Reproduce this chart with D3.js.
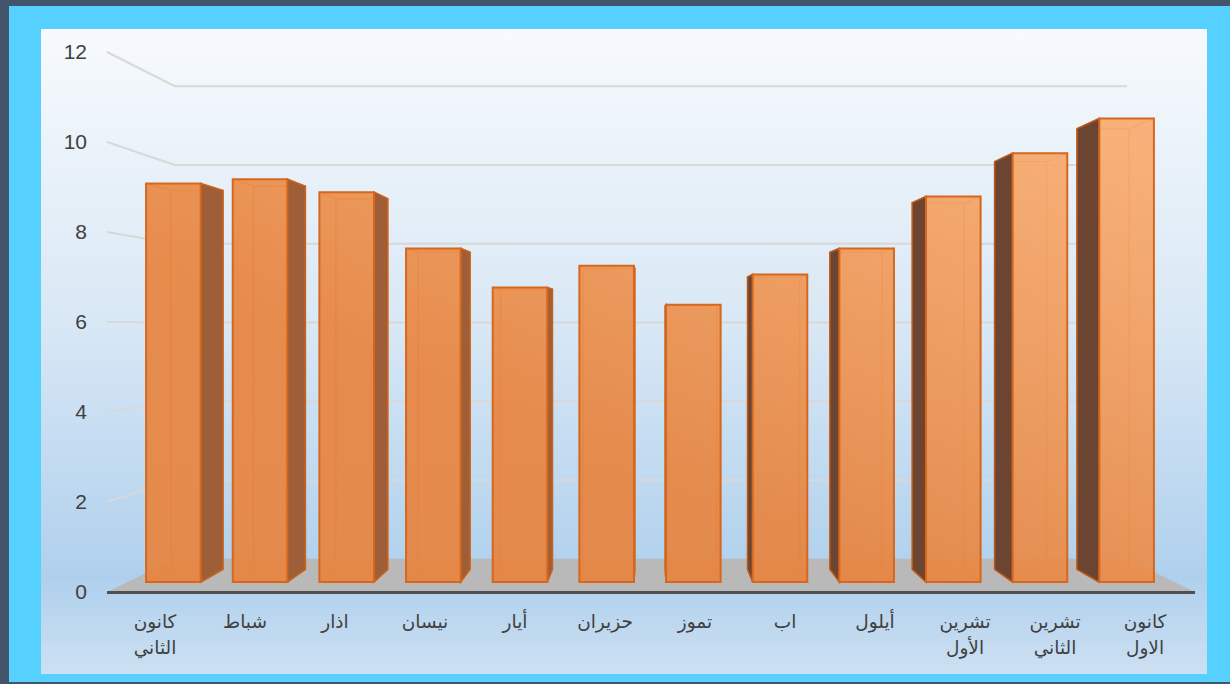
<!DOCTYPE html>
<html>
<head>
<meta charset="utf-8">
<script src="https://cdn.jsdelivr.net/npm/d3@7"></script>
<style>
  body { margin: 0; background: #fff; }
  svg { display: block; }
</style>
</head>
<body>
<div id="chart"></div>
<script>
// data
var months = ["كانون الثاني", "شباط", "اذار", "نيسان", "أيار", "حزيران", "تموز", "اب", "أيلول", "تشرين الأول", "تشرين الثاني", "كانون الاول"];
var values = [9.2, 9.3, 9.0, 7.7, 6.8, 7.3, 6.4, 7.1, 7.7, 8.9, 9.9, 10.7];
var yTicks = [0, 2, 4, 6, 8, 10, 12];

var width = 1230, height = 684;

var svg = d3.select("#chart")
  .append("svg")
    .attr("width", width)
    .attr("height", height);

var defs = svg.append("defs");

// plot area background gradient
var bg = defs.append("linearGradient")
  .attr("id", "bgGrad")
  .attr("x1", 0).attr("y1", 0).attr("x2", 0).attr("y2", 1);
bg.append("stop").attr("offset", "0%").attr("stop-color", "#f7fafd");
bg.append("stop").attr("offset", "45%").attr("stop-color", "#d9e8f5");
bg.append("stop").attr("offset", "85%").attr("stop-color", "#afd0ed");
bg.append("stop").attr("offset", "100%").attr("stop-color", "#cde0f2");

// orange fill of the bar fronts, lighter to the top right
var barGrad = defs.append("linearGradient")
  .attr("id", "barGrad")
  .attr("gradientUnits", "userSpaceOnUse")
  .attr("x1", 700).attr("y1", 500).attr("x2", 900).attr("y2", 50);
barGrad.append("stop").attr("offset", "0%").attr("stop-color", "#e7843f");
barGrad.append("stop").attr("offset", "100%").attr("stop-color", "#f8ab6e");

// frame
svg.append("rect").attr("width", width).attr("height", height).attr("fill", "#44546a");
svg.append("rect").attr("x", 9).attr("y", 6).attr("width", width - 9).attr("height", 676).attr("fill", "#56d0fe");
svg.append("rect").attr("x", 41).attr("y", 29).attr("width", 1166).attr("height", 645).attr("fill", "url(#bgGrad)");

// scales on the front plane
var x = d3.scaleBand()
  .domain(months)
  .range([110, 1190])
  .paddingInner(0.37)
  .paddingOuter(0.185);

var y = d3.scaleLinear()
  .domain([0, 12])
  .range([592, 52]);

// simple perspective: z = 0 front, z = 1 back wall
var vx = 650, vy = 325, k = 1 / 0.875 - 1;
function proj(px, py, z) {
  var s = 1 / (1 + k * z);
  return [vx + (px - vx) * s, vy + (py - vy) * s];
}
var line = d3.line();

var floorL = 107, floorR = 1195;

// gridlines: left wall + back wall
var grid = svg.append("g");
yTicks.filter(function(d){ return d > 0 }).forEach(function(t) {
  grid.append("path")
    .attr("d", line([proj(floorL, y(t), 0), proj(floorL, y(t), 1), proj(floorR, y(t), 1)]))
    .attr("fill", "none")
    .attr("stroke", "#d8d8d8")
    .attr("stroke-width", 2);
});

// floor
svg.append("path")
  .attr("d", line([proj(floorL, y(0), 0), proj(floorL, y(0), 1), proj(floorR, y(0), 1), proj(floorR, y(0), 0)]) + "Z")
  .attr("fill", "#b9b9b9");
svg.append("rect")
  .attr("x", floorL).attr("y", y(0) - 1)
  .attr("width", floorR - floorL).attr("height", 3)
  .attr("fill", "#505050");

// bars
var z0 = 0.27, z1 = 0.65;
var bars = svg.append("g");

months.forEach(function(m, i) {
  var xl = x(m), xr = x(m) + x.bandwidth();
  var yb = y(0), yt = y(values[i]);
  var FLb = proj(xl, yb, z0), FRb = proj(xr, yb, z0), FRt = proj(xr, yt, z0), FLt = proj(xl, yt, z0);
  var BLb = proj(xl, yb, z1), BRb = proj(xr, yb, z1), BRt = proj(xr, yt, z1), BLt = proj(xl, yt, z1);
  var g = bars.append("g");

  // edges seen through the front
  var hidden = [[BLb, BRb, BRt, BLt, BLb], [FLb, BLb], [FRb, BRb], [FLt, BLt], [FRt, BRt]];
  hidden.forEach(function(p) {
    g.append("path")
      .attr("d", line(p))
      .attr("fill", "none")
      .attr("stroke", "#f28638")
      .attr("stroke-width", 1.5);
  });

  // side face
  if (xr < vx) {
    g.append("path")
      .attr("d", line([FRb, FRt, BRt, BRb]) + "Z")
      .attr("fill", "#9e5f38")
      .attr("stroke", "#c8621c")
      .attr("stroke-width", 1.5);
  } else if (xl > vx) {
    g.append("path")
      .attr("d", line([FLb, FLt, BLt, BLb]) + "Z")
      .attr("fill", "#6b4531")
      .attr("stroke", "#b85a1c")
      .attr("stroke-width", 1.5);
  }

  // front face
  g.append("path")
    .attr("d", line([FLb, FLt, FRt, FRb]) + "Z")
    .attr("fill", "url(#barGrad)")
    .attr("fill-opacity", 0.92)
    .attr("stroke", "#d5671f")
    .attr("stroke-width", 2);
});

// y axis labels
svg.append("g").selectAll("text")
  .data(yTicks)
  .enter()
  .append("text")
    .attr("x", 87)
    .attr("y", function(d){ return y(d) })
    .attr("dy", "0.35em")
    .attr("text-anchor", "end")
    .style("font-family", "'Liberation Sans', Arial, sans-serif")
    .style("font-size", "21px")
    .style("fill", "#404040")
    .text(function(d){ return d });

// month labels, two lines where there are two words
var labels = svg.append("g").selectAll("text")
  .data(months)
  .enter()
  .append("text")
    .attr("x", function(d){ return x(d) + x.bandwidth() / 2 })
    .attr("y", 628)
    .attr("text-anchor", "middle")
    .style("font-family", "'DejaVu Sans', sans-serif")
    .style("font-size", "18.5px")
    .style("fill", "#404040");

labels.each(function(d) {
  var words = d.split(" ");
  var t = d3.select(this);
  words.forEach(function(w, j) {
    t.append("tspan")
      .attr("x", x(d) + x.bandwidth() / 2)
      .attr("dy", j == 0 ? 0 : 26)
      .text(w);
  });
});
</script>
</body>
</html>
